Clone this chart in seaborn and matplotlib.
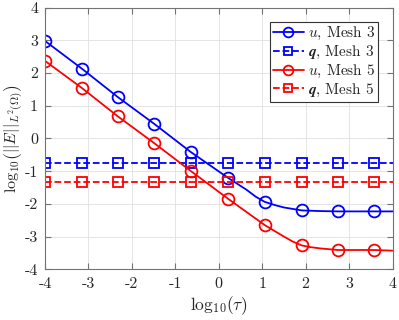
import numpy as np
import pandas as pd
import matplotlib
matplotlib.use('Agg')
import matplotlib.pyplot as plt
from matplotlib.lines import Line2D
import seaborn as sns

# log10(tau) where markers sit
tau_mark = [-4, -3.14, -2.33, -1.48, -0.65, 0.22, 1.06, 1.91, 2.74, 3.57]

# u error, mesh 3 (line points, markers are a subset)
tau_u3 = [-4, -3.14, -2.33, -1.48, -0.65, 0.22, 0.64, 0.85, 1.06, 1.3, 1.5, 1.91, 2.33, 2.74, 3.57, 4]
err_u3 = [2.98, 2.12, 1.27, 0.44, -0.41, -1.21, -1.57, -1.78, -1.94, -2.04, -2.11, -2.20, -2.22, -2.23, -2.23, -2.23]
mark_u3 = [0, 1, 2, 3, 4, 5, 8, 11, 13, 14]

# u error, mesh 5
tau_u5 = [-4, -3.14, -2.33, -1.48, -0.65, 0.22, 1.06, 1.5, 1.7, 1.91, 2.1, 2.33, 2.74, 3.57, 4]
err_u5 = [2.37, 1.53, 0.68, -0.15, -0.99, -1.85, -2.65, -3.00, -3.15, -3.27, -3.32, -3.36, -3.41, -3.41, -3.43]
mark_u5 = [0, 1, 2, 3, 4, 5, 6, 9, 12, 13]

# q error is flat
tau_q = tau_mark + [4]
err_q3 = [-0.74] * len(tau_q)
err_q5 = [-1.34] * len(tau_q)
mark_q = list(range(len(tau_mark)))

sns.set_style('ticks')
plt.rcParams['font.family'] = 'serif'
plt.rcParams['font.serif'] = ['cmr10']
plt.rcParams['mathtext.fontset'] = 'cm'
plt.rcParams['axes.unicode_minus'] = False
plt.rcParams['axes.formatter.use_mathtext'] = False

fig = plt.figure(figsize=(3.99, 3.2), dpi=100)
ax = fig.add_axes([0.1128, 0.1584, 0.871, 0.818])

blue = (0, 0, 1)
red = (1, 0, 0)
lw = 1.3

sns.lineplot(x=tau_u3, y=err_u3, ax=ax, color=blue, lw=lw, marker='o', ms=8.5,
             mfc='none', mec=blue, mew=1.3, markevery=mark_u3, legend=False)
sns.lineplot(x=tau_q, y=err_q3, ax=ax, color=blue, lw=lw, ls='--', marker='s', ms=6.5,
             mfc='none', mec=blue, mew=1.3, markevery=mark_q, legend=False)
sns.lineplot(x=tau_u5, y=err_u5, ax=ax, color=red, lw=lw, marker='o', ms=8.5,
             mfc='none', mec=red, mew=1.3, markevery=mark_u5, legend=False)
sns.lineplot(x=tau_q, y=err_q5, ax=ax, color=red, lw=lw, ls='--', marker='s', ms=6.5,
             mfc='none', mec=red, mew=1.3, markevery=mark_q, legend=False)

ax.set_xlim(-4, 4)
ax.set_ylim(-4, 4)
ax.set_xticks(range(-4, 5))
ax.set_yticks(range(-4, 5))
ax.grid(True, color='0.88', lw=0.6)
ax.set_axisbelow(True)
for s in ax.spines.values():
    s.set_color('0.45')
    s.set_linewidth(0.8)
ax.tick_params(direction='in', top=True, right=True, length=4, width=0.8,
               color='0.45', labelsize=11.5, labelcolor='0.15')
ax.tick_params(axis='x', pad=6)
ax.tick_params(axis='y', pad=5)

ax.set_xlabel(r'$\mathrm{log}_{10}(\tau)$', fontsize=12.5, color='0.15', labelpad=2)
ax.set_ylabel(r'$\mathrm{log}_{10}\left(||E||_{L^2(\Omega)}\right)$', fontsize=11.5, color='0.15', labelpad=0)

handles = [
    Line2D([], [], color=blue, lw=lw, marker='o', ms=7, mfc='none', mew=1.3),
    Line2D([], [], color=blue, lw=lw, ls='--', marker='s', ms=5.5, mfc='none', mew=1.3),
    Line2D([], [], color=red, lw=lw, marker='o', ms=7, mfc='none', mew=1.3),
    Line2D([], [], color=red, lw=lw, ls='--', marker='s', ms=5.5, mfc='none', mew=1.3),
]
labels = [r'$u$, Mesh 3', r'$\mathbfit{q}$, Mesh 3', r'$u$, Mesh 5', r'$\mathbfit{q}$, Mesh 5']
leg = ax.legend(handles, labels, loc='upper right', fontsize=11, frameon=True, fancybox=False,
                edgecolor='0.2', framealpha=1, handlelength=2.0, handletextpad=0.25,
                borderpad=0.2, labelspacing=0.12, borderaxespad=0.95)
leg.get_frame().set_linewidth(0.8)

fig.savefig('out.png', dpi=100)
